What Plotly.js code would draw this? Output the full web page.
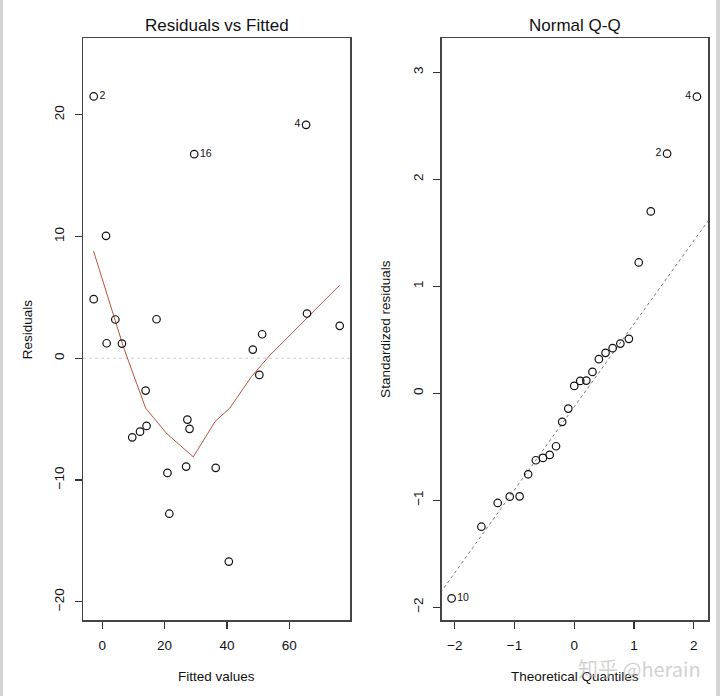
<!DOCTYPE html>
<html>
<head>
<meta charset="utf-8">
<script src="https://cdn.plot.ly/plotly-3.0.1.min.js"></script>
<style>html,body{margin:0;padding:0;background:#fff;}#chart{width:720px;height:696px;}</style>
</head>
<body>
<div id="chart"></div>
<script>
// Residuals vs Fitted
var fittedValues = [-2.76, 65.4, 29.5, 1.19, -2.76, 4.17, 17.4, 65.7, 76.2, 51.3, 1.4, 6.3, 48.3, 50.4, 13.9, 27.3, 28.0, 14.2, 12.1, 9.6, 26.9, 36.4, 20.9, 21.5, 40.6];
var residuals    = [21.5, 19.17, 16.76, 10.05, 4.85, 3.18, 3.2, 3.67, 2.66, 1.97, 1.23, 1.2, 0.71, -1.37, -2.66, -5.04, -5.8, -5.56, -6.03, -6.5, -8.9, -9.0, -9.42, -12.77, -16.7];
var residLabels  = ["2", "4", "16", "", "", "", "", "", "", "", "", "", "", "", "", "", "", "", "", "", "", "", "", "", ""];
var smoothX = [-2.8, 6.8, 13.9, 20.7, 29.2, 36.2, 40.9, 47.9, 53.8, 76.2];
var smoothY = [8.8, 0.9, -4.1, -6.2, -8.1, -5.2, -4.1, -1.5, 0.25, 6.0];

// Normal Q-Q
var theoreticalQ = [-2.054, -1.555, -1.282, -1.080, -0.915, -0.772, -0.643, -0.524, -0.412, -0.305, -0.202, -0.100, 0, 0.100, 0.202, 0.305, 0.412, 0.524, 0.643, 0.772, 0.915, 1.080, 1.282, 1.555, 2.054];
var stdResiduals = [-1.918, -1.248, -1.026, -0.967, -0.964, -0.758, -0.627, -0.605, -0.577, -0.496, -0.268, -0.144, 0.068, 0.115, 0.118, 0.199, 0.318, 0.377, 0.421, 0.464, 0.508, 1.222, 1.699, 2.239, 2.772];
var qqLabels = ["10", "", "", "", "", "", "", "", "", "", "", "", "", "", "", "", "", "", "", "", "", "", "", "2", "4"];
var qqLineX = [-2.3, 2.3];
var qqLineY = [-1.91, 1.656];

var font = "Liberation Sans, Arial, sans-serif";
var ink = "#111";

function labelPositions(labels, special) {
  return labels.map(function (l) { return special[l] || "middle right"; });
}

var traces = [
  {
    x: smoothX, y: smoothY, xaxis: "x", yaxis: "y", type: "scatter", mode: "lines",
    line: {color: "#b8553f", width: 1}, hoverinfo: "skip"
  },
  {
    x: fittedValues, y: residuals, xaxis: "x", yaxis: "y", type: "scatter", mode: "markers+text",
    text: residLabels, textposition: labelPositions(residLabels, {"4": "middle left"}),
    textfont: {family: font, size: 10.5, color: ink},
    marker: {symbol: "circle-open", size: 7.5, color: ink, line: {width: 1.2, color: ink}}
  },
  {
    x: qqLineX, y: qqLineY, xaxis: "x2", yaxis: "y2", type: "scatter", mode: "lines",
    line: {color: "#777", width: 1, dash: "dot"}, hoverinfo: "skip"
  },
  {
    x: theoreticalQ, y: stdResiduals, xaxis: "x2", yaxis: "y2", type: "scatter", mode: "markers+text",
    text: qqLabels, textposition: labelPositions(qqLabels, {"2": "middle left", "4": "middle left"}),
    textfont: {family: font, size: 10.5, color: ink},
    marker: {symbol: "circle-open", size: 7.5, color: ink, line: {width: 1.2, color: ink}}
  }
];

function axis(extra) {
  var base = {
    showgrid: false, zeroline: false, showline: true, mirror: true,
    linecolor: "#444", linewidth: 1.5, ticks: "outside", ticklen: 7, tickwidth: 1.2,
    tickcolor: "#333", tickfont: {family: font, size: 13.5, color: ink},
    fixedrange: true
  };
  for (var k in extra) base[k] = extra[k];
  return base;
}

var layout = {
  width: 720, height: 696,
  margin: {l: 83, r: 12, t: 38, b: 76},
  paper_bgcolor: "#ffffff", plot_bgcolor: "#ffffff",
  showlegend: false,
  font: {family: font, color: ink},
  xaxis: axis({domain: [0, 0.4272], range: [-6.2, 79.5], tickvals: [0, 20, 40, 60], ticklabelstandoff: 5, anchor: "y"}),
  yaxis: axis({range: [-21.5, 26.3], tickvals: [-20, -10, 0, 10, 20], tickangle: -90, ticklabelstandoff: 5, anchor: "x"}),
  xaxis2: axis({domain: [0.5739, 1], range: [-2.22, 2.24], tickvals: [-2, -1, 0, 1, 2], ticklabelstandoff: 5, anchor: "y2"}),
  yaxis2: axis({range: [-2.12, 3.32], tickvals: [-2, -1, 0, 1, 2, 3], tickangle: -90, ticklabelstandoff: 5, anchor: "x2"}),
  shapes: [
    {type: "line", xref: "x domain", yref: "y", x0: 0, x1: 1, y0: 0, y1: 0,
     line: {color: "#cfcfcf", width: 1, dash: "3px,3px"}, layer: "below"},
    {type: "rect", xref: "paper", yref: "paper", x0: -0.1328, x1: -0.128, y0: -0.131, y1: 1.066,
     fillcolor: "#d4d4d4", line: {width: 0}},
    {type: "rect", xref: "paper", yref: "paper", x0: 1.0128, x1: 1.0192, y0: -0.131, y1: 1.066,
     fillcolor: "#d4d4d4", line: {width: 0}}
  ],
  annotations: [
    {text: "Residuals vs Fitted", xref: "x domain", yref: "paper", x: 0.5, y: 1.0223, showarrow: false,
     xanchor: "center", yanchor: "middle", font: {family: font, size: 17, color: ink}},
    {text: "Normal Q-Q", xref: "x2 domain", yref: "paper", x: 0.5, y: 1.0223, showarrow: false,
     xanchor: "center", yanchor: "middle", font: {family: font, size: 17, color: ink}},
    {text: "Fitted values", xref: "x domain", yref: "paper", x: 0.5, y: -0.0974, showarrow: false,
     xanchor: "center", yanchor: "middle", font: {family: font, size: 13.5, color: ink}},
    {text: "Theoretical Quantiles", xref: "x2 domain", yref: "paper", x: 0.5, y: -0.0974, showarrow: false,
     xanchor: "center", yanchor: "middle", font: {family: font, size: 13.5, color: ink}},
    {text: "Residuals", xref: "paper", yref: "paper", x: -0.0893, y: 0.5, showarrow: false, textangle: -90,
     xanchor: "center", yanchor: "middle", font: {family: font, size: 13.5, color: ink}},
    {text: "Standardized residuals", xref: "paper", yref: "paper", x: 0.483, y: 0.5, showarrow: false, textangle: -90,
     xanchor: "center", yanchor: "middle", font: {family: font, size: 13.5, color: ink}},
    {text: "知乎 @herain", xref: "paper", yref: "paper", x: 0.99, y: -0.0825, showarrow: false,
     xanchor: "right", yanchor: "middle", borderpad: 0,
     font: {family: "Noto Sans CJK SC, sans-serif", size: 20, color: "rgba(190,190,190,0.7)"}}
  ]
};

Plotly.newPlot("chart", traces, layout, {displayModeBar: false, staticPlot: true});
</script>
</body>
</html>
